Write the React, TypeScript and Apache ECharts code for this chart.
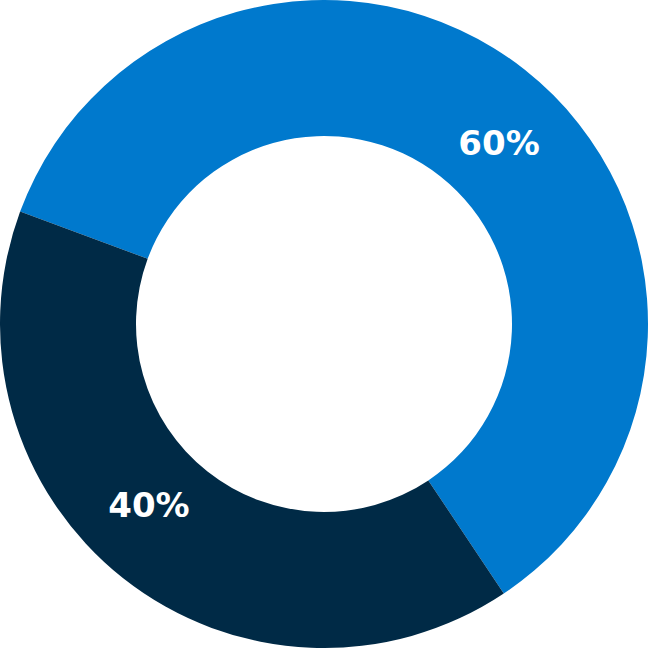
import React, { useEffect, useRef } from "react";
import * as echarts from "echarts";

const categories = ["A", "B"];
const values = [60, 40];
const labels = ["60%", "40%"];
const colors = ["#0079CD", "#002A46"];

export default function App() {
  const ref = useRef<HTMLDivElement>(null);
  useEffect(() => {
    if (!ref.current) return;
    const chart = echarts.init(ref.current, undefined, { renderer: "svg" });
    const data = categories.map((c, i) => ({
      name: c,
      value: values[i],
      label: { formatter: labels[i] },
      itemStyle: { color: colors[i] },
    }));
    chart.setOption({
      animation: false,
      series: [
        {
          type: "pie",
          center: ["50%", "50%"],
          radius: [188, 324],
          startAngle: 159.7,
          clockwise: true,
          silent: true,
          label: { show: false },
          labelLine: { show: false },
          data,
        },
        {
          type: "pie",
          center: ["50%", "50%"],
          radius: [174, 324],
          startAngle: 154,
          clockwise: true,
          silent: true,
          itemStyle: { color: "rgba(0,0,0,0)" },
          label: {
            show: true,
            position: "inside",
            color: "#ffffff",
            fontFamily: "DejaVu Sans",
            fontWeight: "bold",
            fontSize: 34,
          },
          labelLine: { show: false },
          data: categories.map((c, i) => ({
            name: c,
            value: values[i],
            label: { formatter: labels[i] },
            itemStyle: { color: "rgba(0,0,0,0)" },
          })),
        },
      ],
    });
    return () => chart.dispose();
  }, []);
  return (
    <div
      ref={ref}
      style={{ position: "absolute", left: 0, top: 0, width: 648, height: 648 }}
    />
  );
}
